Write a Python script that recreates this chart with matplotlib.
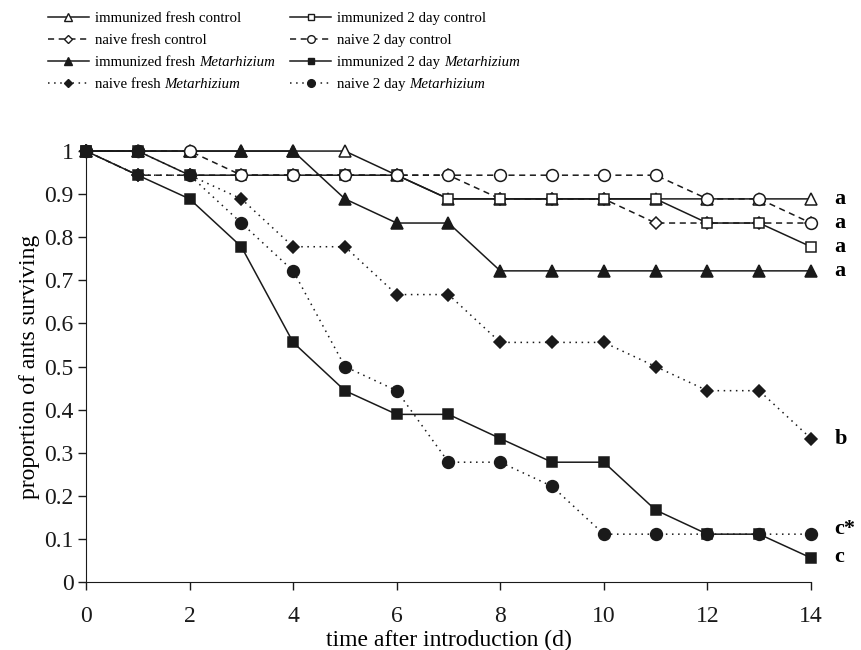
import matplotlib
matplotlib.use("Agg")
import matplotlib.pyplot as plt
from matplotlib.lines import Line2D

plt.rcParams["font.family"] = ["Liberation Serif", "DejaVu Serif"]

days = list(range(15))

# survival proportions (n = 18 ants per group)
imm_fresh_ctrl = [1, 1, 1, 1, 1, 1, 0.944, 0.889, 0.889, 0.889, 0.889, 0.889, 0.889, 0.889, 0.889]
naive_fresh_ctrl = [1, 0.944, 0.944, 0.944, 0.944, 0.944, 0.944, 0.944, 0.889, 0.889, 0.889, 0.833, 0.833, 0.833, 0.833]
imm_fresh_met = [1, 1, 1, 1, 1, 0.889, 0.833, 0.833, 0.722, 0.722, 0.722, 0.722, 0.722, 0.722, 0.722]
naive_fresh_met = [1, 0.944, 0.944, 0.889, 0.778, 0.778, 0.667, 0.667, 0.556, 0.556, 0.556, 0.5, 0.444, 0.444, 0.333]
imm_2d_ctrl = [1, 1, 0.944, 0.944, 0.944, 0.944, 0.944, 0.889, 0.889, 0.889, 0.889, 0.889, 0.833, 0.833, 0.778]
naive_2d_ctrl = [1, 1, 1, 0.944, 0.944, 0.944, 0.944, 0.944, 0.944, 0.944, 0.944, 0.944, 0.889, 0.889, 0.833]
imm_2d_met = [1, 0.944, 0.889, 0.778, 0.556, 0.444, 0.389, 0.389, 0.333, 0.278, 0.278, 0.167, 0.111, 0.111, 0.056]
naive_2d_met = [1, 1, 0.944, 0.833, 0.722, 0.5, 0.444, 0.278, 0.278, 0.222, 0.111, 0.111, 0.111, 0.111, 0.111]

sig_letters = ["a", "a", "a", "a", "b", "c*", "c"]
sig_y = [0.889, 0.833, 0.778, 0.722, 0.333, 0.122, 0.058]

ink = "#1a1a1a"
dash = (0, (4, 3))
dot = (0, (1, 3))

# (label, italic part, values, linestyle, marker, filled, markersize)
series = [
    ("immunized fresh control", "", imm_fresh_ctrl, "-", "^", False, 9),
    ("naive fresh control", "", naive_fresh_ctrl, dash, "D", False, 6.5),
    ("immunized fresh ", "Metarhizium", imm_fresh_met, "-", "^", True, 9),
    ("naive fresh ", "Metarhizium", naive_fresh_met, dot, "D", True, 6.5),
    ("immunized 2 day control", "", imm_2d_ctrl, "-", "s", False, 7),
    ("naive 2 day control", "", naive_2d_ctrl, dash, "o", False, 8.5),
    ("immunized 2 day ", "Metarhizium", imm_2d_met, "-", "s", True, 7),
    ("naive 2 day ", "Metarhizium", naive_2d_met, dot, "o", True, 8.5),
]

W, H = 862, 650
fig = plt.figure(figsize=(W / 100, H / 100), dpi=100)
ax = fig.add_axes([0.0998, 0.1046, 0.841, 0.663])

for label, ital, vals, ls, mk, filled, ms in series:
    face = ink if filled else "white"
    ax.plot(days, vals, linestyle=ls, color=ink, lw=1.1, marker=mk, ms=ms,
            mfc=face, mec=ink, mew=1.1, clip_on=False)

for letter, y in zip(sig_letters, sig_y):
    ax.text(14.45, y, letter, fontsize=16, fontweight="bold", ha="left", va="center")

ax.set_xlim(0, 14)
ax.set_ylim(0, 1)
ax.set_xticks(range(0, 15, 2))
ax.set_yticks([i / 10 for i in range(11)])
ax.set_yticklabels(["0"] + [f"{i / 10:.1f}" for i in range(1, 10)] + ["1"])
ax.tick_params(direction="out", length=6, width=1, labelsize=17, colors=ink)
ax.tick_params(axis="x", pad=11)
ax.tick_params(axis="y", pad=3)
ax.spines["top"].set_visible(False)
ax.spines["right"].set_visible(False)
for s in ("left", "bottom"):
    ax.spines[s].set_color(ink)
ax.set_xlabel("time after introduction (d)", fontsize=17, labelpad=2)
ax.set_ylabel("proportion of ants surviving", fontsize=17, labelpad=3)

# hand-built two-column key, rows 22 px apart
renderer = fig.canvas.get_renderer()
col_x = [48, 290]
row_y = [17, 39, 61, 83]
for i, (label, ital, vals, ls, mk, filled, ms) in enumerate(series):
    x0 = col_x[i // 4]
    y = 1 - row_y[i % 4] / H
    face = ink if filled else "white"
    fig.add_artist(Line2D([x0 / W, (x0 + 41) / W], [y, y], linestyle=ls, color=ink, lw=1.1))
    fig.add_artist(Line2D([(x0 + 20.5) / W], [y], marker=mk, ms=ms * 0.65,
                          mfc=face, mec=ink, mew=1.0, linestyle="none"))
    t = fig.text((x0 + 47) / W, y, label, fontsize=10.7, va="center_baseline", ha="left")
    if ital:
        bb = t.get_window_extent(renderer)
        fig.text(bb.x1 / W, y, ital, fontsize=10.7, style="italic",
                 va="center_baseline", ha="left")

fig.savefig("out.png", dpi=100)
